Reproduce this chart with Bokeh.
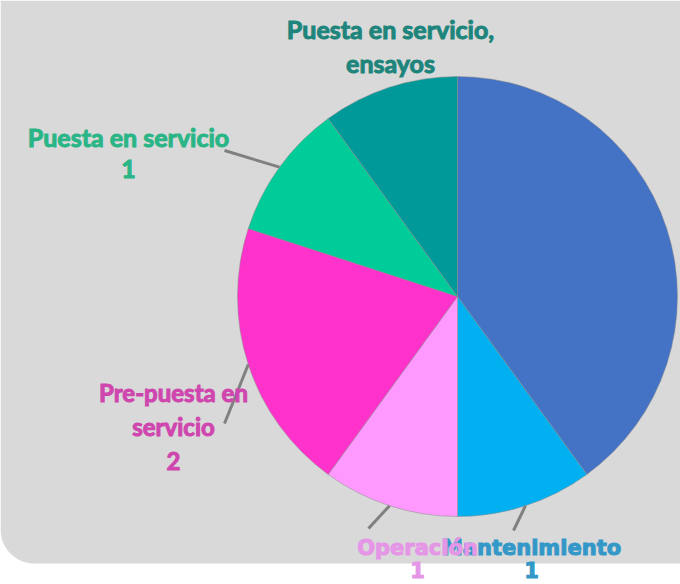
import numpy as np
from bokeh.plotting import figure
from bokeh.models import Range1d, GlobalInlineStyleSheet, ColumnDataSource
from bokeh.embed import file_html
from bokeh.resources import INLINE
from bokeh.core.properties import value

# ---- data (clockwise from 12 o'clock) ----
categories = ["", "Mantenimiento", "Operación", "Pre-puesta en servicio",
              "Puesta en servicio", "Puesta en servicio, ensayos"]
values = [4, 1, 1, 2, 1, 1]
display_lines = [[], ["Mantenimiento"], ["Operación"], ["Pre-puesta en", "servicio"],
                 ["Puesta en servicio"], ["Puesta en servicio,", "ensayos"]]
show_value = [False, True, True, True, True, False]
slice_colors = ["#4472C4", "#00B0F0", "#FF99FF", "#FF33CC", "#00CC99", "#009999"]
label_colors = ["#3a66b8", "#3398c8", "#e596e6", "#cf46ae", "#2ab586", "#1d857b"]

# ---- layout (screen pixels) ----
W, H = 680, 584
CX, CY, R = 457, 296, 220
label_pos = [None, (531, 547, 22), (417, 547, 22), (173, 392, 34), (128, 136, 32), (390, 28, 34)]
leader_end = [None, (513, 530), (368, 528), (224, 423), (224, 150), None]
label_font = [None, "DejaVu Sans", "DejaVu Sans", "Lato", "Lato", "Lato"]
label_size = [None, "21px", "21px", "24px", "25px", "25px"]


def sy(y):
    return H - y


p = figure(width=W, height=H, x_range=Range1d(0, W), y_range=Range1d(0, H),
           x_axis_type=None, y_axis_type=None, output_backend="svg",
           toolbar_location=None, min_border=0)
p.grid.visible = False
p.outline_line_color = None
p.background_fill_color = "white"
p.border_fill_color = "white"
p.stylesheets = [GlobalInlineStyleSheet(css="html, body { margin: 0 !important; padding: 0; overflow: hidden; background: white; }")]

# gray panel with rounded bottom-left corner
rc = 34
bottom = 563
arc = np.linspace(np.pi, 1.5 * np.pi, 20)
px = [0, 0] + list(rc + rc * np.cos(arc)) + [W + 20, W + 20]
py = [0, bottom - rc] + list(bottom - rc - rc * np.sin(arc)) + [bottom, 0]
p.patch(px, [sy(v) for v in py], fill_color="#d9d9d9", line_color=None)

# pie
total = float(sum(values))
cum = np.concatenate([[0], np.cumsum(values)])
start = np.pi / 2 - 2 * np.pi * cum[:-1] / total
end = np.pi / 2 - 2 * np.pi * cum[1:] / total
mid = (start + end) / 2
src = ColumnDataSource(dict(start=start, end=end, color=slice_colors, cat=categories, val=values))
p.wedge(x=CX, y=sy(CY), radius=R, start_angle="start", end_angle="end", direction="clock",
        fill_color="color", line_color="#8c8c8c", line_width=1, line_alpha=0.5, source=src)

# leader lines
x0, y0, x1, y1 = [], [], [], []
for i, e in enumerate(leader_end):
    if e is None:
        continue
    x0.append(CX + R * np.cos(mid[i]))
    y0.append(sy(CY) + R * np.sin(mid[i]))
    x1.append(e[0])
    y1.append(sy(e[1]))
p.segment(x0=x0, y0=y0, x1=x1, y1=y1, line_color="#808080", line_width=3)

# labels
for i, pos in enumerate(label_pos):
    if pos is None:
        continue
    lines = list(display_lines[i])
    if show_value[i]:
        lines.append(str(values[i]))
    lx, ly, sp = pos
    p.text(x=[lx] * len(lines), y=[sy(ly + k * sp) for k in range(len(lines))], text=lines,
           text_align="center", text_baseline="middle", text_color=label_colors[i],
           text_font=value(label_font[i]), text_font_style="bold", text_font_size=label_size[i],
           text_outline_color=label_colors[i])

open("out.html", "w").write(file_html(p, INLINE))
